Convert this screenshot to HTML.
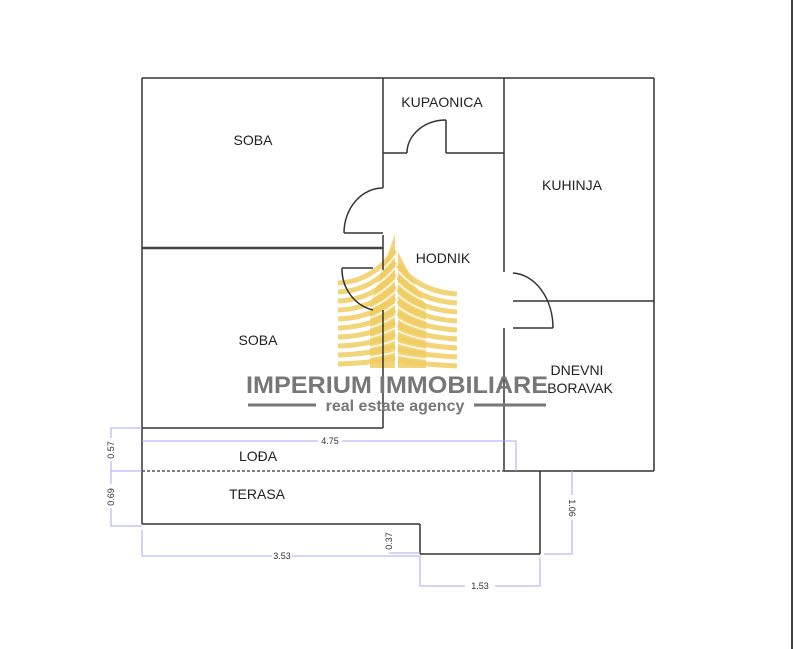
<!DOCTYPE html>
<html><head><meta charset="utf-8"><style>
html,body{margin:0;padding:0;background:#fff}
svg{display:block}
text{font-family:"Liberation Sans",sans-serif}
</style></head><body>
<svg width="794" height="649" viewBox="0 0 794 649" xmlns="http://www.w3.org/2000/svg">
<rect width="794" height="649" fill="#fff"/>
<line x1="792" y1="0" x2="792" y2="649" stroke="#444" stroke-width="2"/>
<!-- logo -->
<g fill="#f0cd62" opacity="0.85">
<polygon points="370,305 395,234 395,368 370,368"/>
<polygon points="398,252 426,305 426,368 398,368"/>
</g>
<g fill="none" stroke="#f0cd62" stroke-width="5" opacity="0.85">
<path d="M338,283 Q372,282 395,250"/>
<path d="M338,292 Q372,291 395,262"/>
<path d="M338,301 Q372,300 395,274"/>
<path d="M338,310 Q372,309 395,286"/>
<path d="M338,319 Q372,318 395,298"/>
<path d="M338,328 Q372,327 395,310"/>
<path d="M338,337 Q372,336 395,322"/>
<path d="M338,346 Q372,345 395,334"/>
<path d="M338,355 Q372,354 395,346"/>
<path d="M338,364 Q372,363 395,358"/>
<path d="M398,265 Q420,292 457,294"/>
<path d="M398,277 Q420,301 457,303"/>
<path d="M398,289 Q420,310 457,312"/>
<path d="M398,301 Q420,319 457,321"/>
<path d="M398,313 Q420,328 457,330"/>
<path d="M398,325 Q420,337 457,339"/>
<path d="M398,337 Q420,346 457,348"/>
<path d="M398,349 Q420,355 457,357"/>
<path d="M398,361 Q420,364 457,366"/>
</g>
<g fill="none" stroke="#fff" stroke-width="1.5" opacity="0.9">
<path d="M338,287.5 Q372,286.5 395,256"/>
<path d="M338,296.5 Q372,295.5 395,268"/>
<path d="M338,305.5 Q372,304.5 395,280"/>
<path d="M338,314.5 Q372,313.5 395,292"/>
<path d="M338,323.5 Q372,322.5 395,304"/>
<path d="M338,332.5 Q372,331.5 395,316"/>
<path d="M338,341.5 Q372,340.5 395,328"/>
<path d="M338,350.5 Q372,349.5 395,340"/>
<path d="M338,359.5 Q372,358.5 395,352"/>
<path d="M398,271 Q420,296.5 457,298.5"/>
<path d="M398,283 Q420,305.5 457,307.5"/>
<path d="M398,295 Q420,314.5 457,316.5"/>
<path d="M398,307 Q420,323.5 457,325.5"/>
<path d="M398,319 Q420,332.5 457,334.5"/>
<path d="M398,331 Q420,341.5 457,343.5"/>
<path d="M398,343 Q420,350.5 457,352.5"/>
<path d="M398,355 Q420,359.5 457,361.5"/>
</g>
<!-- walls -->
<g stroke="#333" stroke-width="1.5" fill="none">
<line x1="142" y1="78" x2="654" y2="78"/>
<line x1="142" y1="78" x2="142" y2="524"/>
<line x1="654" y1="78" x2="654" y2="471"/>
<line x1="383" y1="78" x2="383" y2="188"/>
<line x1="383" y1="235" x2="383" y2="270"/>
<line x1="383" y1="310" x2="383" y2="428"/>
<line x1="142" y1="428" x2="383" y2="428"/>
<line x1="504" y1="78" x2="504" y2="272"/>
<line x1="504" y1="328" x2="504" y2="471"/>
<line x1="383" y1="153" x2="407" y2="153"/>
<line x1="446" y1="153" x2="504" y2="153"/>
<line x1="446" y1="120" x2="446" y2="153"/>
<path d="M446,120 A39,33 0 0 0 407,153"/>
<path d="M383,188 A39,45 0 0 0 344,233"/>
<line x1="344" y1="233" x2="383" y2="233"/>
<line x1="342" y1="268" x2="373" y2="268"/>
<path d="M342,268 A40,42 0 0 0 373,310"/>
<line x1="513" y1="301" x2="654" y2="301"/>
<line x1="513" y1="328" x2="553" y2="328"/>
<path d="M513,273 A42,55 0 0 1 553,328"/>
<line x1="504" y1="471" x2="654" y2="471"/>
<line x1="540" y1="471" x2="540" y2="554"/>
<line x1="142" y1="524" x2="420" y2="524"/>
<line x1="420" y1="524" x2="420" y2="554"/>
<line x1="420" y1="554" x2="540" y2="554"/>
</g>
<line x1="142" y1="248" x2="383" y2="248" stroke="#444" stroke-width="2.5"/>
<line x1="142" y1="471" x2="514" y2="471" stroke="#555" stroke-width="1.5" stroke-dasharray="3,2"/>
<!-- dims -->
<g stroke="#a8a8f0" stroke-width="1" fill="none">
<path d="M142,441 H318 M342,441 H516 V471"/>
<path d="M142,428 H111 V438 M111,461 V471 H142"/>
<path d="M111,471 V484 M111,508 V526 H142"/>
<path d="M142,530 V556 H272 M292,556 H420 V586 H465 M495,586 H540 V558"/>
<path d="M389,553 H420"/>
<path d="M544,554 H572 V520 M572,495 V471"/>
</g>
<g font-size="9" fill="#333" text-anchor="middle">
<text x="330" y="444">4.75</text>
<text x="282" y="559">3.53</text>
<text x="480" y="589">1.53</text>
<text transform="translate(114,450) rotate(-90)">0.57</text>
<text transform="translate(114,497) rotate(-90)">0.69</text>
<text transform="translate(392,541) rotate(-90)">0.37</text>
<text transform="translate(569,508) rotate(90)">1.06</text>
</g>
<!-- labels -->
<g font-size="14" fill="#222" text-anchor="middle">
<text x="253" y="145">SOBA</text>
<text x="442" y="107">KUPAONICA</text>
<text x="572" y="190">KUHINJA</text>
<text x="443" y="263">HODNIK</text>
<text x="258" y="345">SOBA</text>
<text x="577" y="375">DNEVNI</text>
<text x="580" y="393">BORAVAK</text>
<text x="258" y="461">LOĐA</text>
<text x="257" y="499">TERASA</text>
</g>
<text x="246" y="393" font-size="24" font-weight="bold" fill="#777" textLength="302" lengthAdjust="spacingAndGlyphs">IMPERIUM IMMOBILIARE</text>
<line x1="248" y1="405" x2="316" y2="405" stroke="#777" stroke-width="3"/>
<line x1="474" y1="405" x2="546" y2="405" stroke="#777" stroke-width="3"/>
<text x="395" y="411" font-size="16" font-weight="bold" fill="#777" text-anchor="middle">real estate agency</text>
</svg>
</body></html>
